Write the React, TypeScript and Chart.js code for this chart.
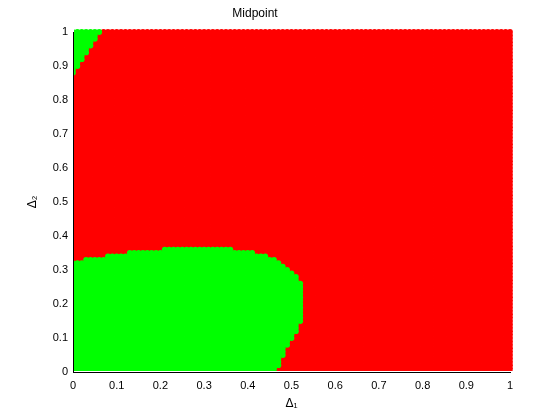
import { useEffect, useRef } from "react";
import { Chart, registerables } from "chart.js";

Chart.register(...registerables);

// Sampling grid of the parameter plane (Δ1 columns, Δ2 rows), step 0.01
const gridStep = 0.01;
const gridCount = 101;

// Lower-left green region, per Δ1 column (index 0 → Δ1 = 0):
// highest green Δ2 in that column
const lowerGreenTop = [
  0.32, 0.32, 0.32, 0.33, 0.33, 0.33, 0.33, 0.33, 0.34, 0.34,
  0.34, 0.34, 0.34, 0.35, 0.35, 0.35, 0.35, 0.35, 0.35, 0.35,
  0.35, 0.36, 0.36, 0.36, 0.36, 0.36, 0.36, 0.36, 0.36, 0.36,
  0.36, 0.36, 0.36, 0.36, 0.36, 0.36, 0.36, 0.35, 0.35, 0.35,
  0.35, 0.35, 0.34, 0.34, 0.34, 0.33, 0.33, 0.32, 0.31, 0.30,
  0.29, 0.28, 0.26,
];
// lowest green Δ2 in that column
const lowerGreenBottom = [
  0, 0, 0, 0, 0, 0, 0, 0, 0, 0,
  0, 0, 0, 0, 0, 0, 0, 0, 0, 0,
  0, 0, 0, 0, 0, 0, 0, 0, 0, 0,
  0, 0, 0, 0, 0, 0, 0, 0, 0, 0,
  0, 0, 0, 0, 0, 0, 0, 0.02, 0.05, 0.08,
  0.1, 0.12, 0.15,
];
// Top-left green corner: lowest green Δ2 per Δ1 column
const upperGreenBottom = [0.88, 0.9, 0.92, 0.94, 0.96, 0.98, 1.0];

const tickValues = [0, 0.1, 0.2, 0.3, 0.4, 0.5, 0.6, 0.7, 0.8, 0.9, 1];
const tickLabels = ["0", "0.1", "0.2", "0.3", "0.4", "0.5", "0.6", "0.7", "0.8", "0.9", "1"];

const chartTitle = "Midpoint";
const xTitle = "Δ₁";
const yTitle = "Δ₂";

function isGreen(i: number, j: number): boolean {
  const y = Math.round(j * gridStep * 100) / 100;
  if (i < lowerGreenTop.length && y <= lowerGreenTop[i] + 1e-9 && y >= lowerGreenBottom[i] - 1e-9) return true;
  if (i < upperGreenBottom.length && y >= upperGreenBottom[i] - 1e-9) return true;
  return false;
}

function buildPoints() {
  const green: { x: number; y: number }[] = [];
  const red: { x: number; y: number }[] = [];
  for (let i = 0; i < gridCount; i++) {
    const x = Math.round(i * gridStep * 100) / 100;
    for (let j = 0; j < gridCount; j++) {
      const y = Math.round(j * gridStep * 100) / 100;
      if (isGreen(i, j)) green.push({ x, y });
      else red.push({ x, y });
    }
  }
  return { green, red };
}

const FONT = "'Liberation Sans', Arial, Helvetica, sans-serif";
const CLIP = { left: -1, top: 3, right: 3, bottom: -1 };

export default function App() {
  const canvasRef = useRef<HTMLCanvasElement | null>(null);

  useEffect(() => {
    const canvas = canvasRef.current;
    if (!canvas) return;
    const { green, red } = buildPoints();
    const setTicks = (scale: any) => {
      scale.ticks = tickValues.map((v) => ({ value: v }));
    };
    const labelFor = (v: number | string) => {
      const idx = tickValues.findIndex((t) => Math.abs(t - Number(v)) < 1e-6);
      return idx >= 0 ? tickLabels[idx] : "";
    };
    const chart = new Chart(canvas, {
      type: "scatter",
      data: {
        datasets: [
          {
            label: "green",
            data: green,
            backgroundColor: "#00ff00",
            borderWidth: 0,
            pointRadius: 2.9,
            pointHoverRadius: 2.9,
            clip: CLIP as any,
          },
          {
            label: "red",
            data: red,
            backgroundColor: "#ff0000",
            borderWidth: 0,
            pointRadius: 2.9,
            pointHoverRadius: 2.9,
            clip: CLIP as any,
          },
        ],
      },
      options: {
        animation: false,
        responsive: false,
        events: [],
        layout: { padding: { left: 0, right: 50, top: 0, bottom: 0 } },
        plugins: {
          legend: { display: false },
          tooltip: { enabled: false },
          title: {
            display: true,
            text: chartTitle,
            color: "#000",
            font: { family: FONT, size: 12, weight: "normal", lineHeight: 1.2 },
            padding: { top: 6, bottom: 11.6 },
          },
        },
        scales: {
          x: {
            type: "linear",
            min: 0,
            max: 1,
            afterBuildTicks: setTicks,
            afterFit: (s: any) => {
              s.height = 48;
            },
            grid: { display: true, drawOnChartArea: false, drawTicks: false },
            border: { display: true, color: "#000", width: 1 },
            ticks: {
              color: "#000",
              padding: 7,
              maxRotation: 0,
              autoSkip: false,
              font: { family: FONT, size: 11 },
              callback: (v: any) => labelFor(v),
            },
            title: {
              display: true,
              text: xTitle,
              color: "#000",
              font: { family: FONT, size: 12 },
              padding: { top: 0, bottom: 9 },
            },
          },
          y: {
            type: "linear",
            min: 0,
            max: 1,
            afterBuildTicks: setTicks,
            afterFit: (s: any) => {
              s.width = 73;
            },
            grid: { display: true, drawOnChartArea: false, drawTicks: false },
            border: { display: true, color: "#000", width: 1 },
            ticks: {
              color: "#000",
              padding: 5,
              autoSkip: false,
              font: { family: FONT, size: 11 },
              callback: (v: any) => labelFor(v),
            },
            title: {
              display: true,
              text: yTitle,
              color: "#000",
              font: { family: FONT, size: 12 },
              padding: { top: 25, bottom: 0 },
            },
          },
        },
      },
    });
    return () => chart.destroy();
  }, []);

  return (
    <div style={{ position: "absolute", left: 0, top: 0, width: 560, height: 420, background: "#fff" }}>
      <canvas ref={canvasRef} width={560} height={420} style={{ display: "block" }} />
    </div>
  );
}
